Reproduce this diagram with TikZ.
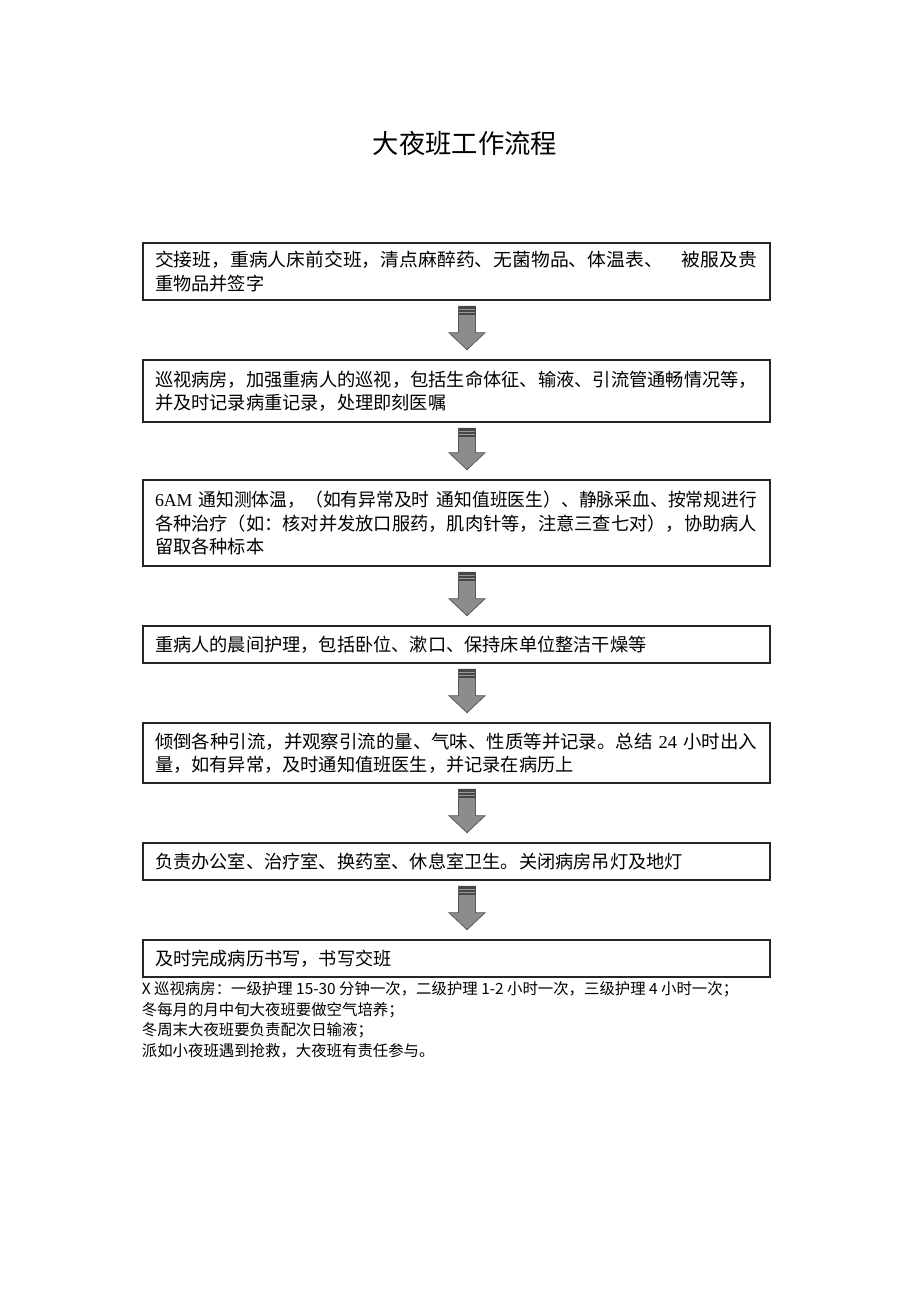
\documentclass[tikz,border=0pt]{standalone}
\usepackage{graphicx}
\usepackage{fontspec}
\setmainfont{Noto Sans CJK SC}
\newfontfamily\cjk{Noto Sans CJK SC}
\newfontfamily\latinserif{Liberation Serif}
\usetikzlibrary{calc}
\newcommand\fullline[1]{\resizebox{602pt}{\height}{#1}}
\tikzset{
  flowbox/.style={draw=black!85, line width=2.6pt, fill=white, minimum width=627pt, text width=603pt,
    inner xsep=12pt, inner ysep=4pt, align=left, font=\cjk\fontsize{18.2}{23.5}\selectfont},
  arrowbody/.style={fill=black!45, draw=black!65, line width=0.8pt},
  arrowband/.style={fill=black!72},
  arrowstripe/.style={draw=black!40, line width=0.6pt},
  notestyle/.style={anchor=north west, inner sep=0pt, align=left, font=\cjk\fontsize{15.4}{20.7}\selectfont},
  titlestyle/.style={font=\cjk\fontsize{26.3}{30}\selectfont}
}
\newcommand\blockarrow[2]{%
  \coordinate (#1top) at ($(#1.south)+(10.5,-5)$);
  \coordinate (#1tip) at ($(#2.north)+(10.5,9)$);
  \path let \p1=(#1top), \p2=(#1tip) in
    [arrowbody] (\x1-8.5,\y1) -- (\x1+8.5,\y1) -- (\x1+8.5,\y2+17) -- (\x1+18,\y2+17)
      -- (\x2,\y2) -- (\x1-18,\y2+17) -- (\x1-8.5,\y2+17) -- cycle;
  \path[arrowband] ($(#1top)+(-8.5,0)$) rectangle ($(#1top)+(8.5,-9)$);
  \path[arrowstripe] ($(#1top)+(-8,-3)$) -- ($(#1top)+(8,-3)$) ($(#1top)+(-8,-6)$) -- ($(#1top)+(8,-6)$);
}
\begin{document}
\begin{tikzpicture}[x=1pt,y=1pt]
\useasboundingbox (0,0) rectangle (920,-1301);
\fill[white] (0,0) rectangle (920,-1301);
\node[titlestyle] (title) at (465,-143) {大夜班工作流程};

\node[flowbox, minimum height=57pt] (b1) at (456.5,-271.5)
  {\fullline{交接班，重病人床前交班，清点麻醉药、无菌物品、体温表、\hspace{1em}被服及贵}\\重物品并签字};
\node[flowbox, minimum height=62pt] (b2) at (456.5,-391)
  {\fullline{巡视病房，加强重病人的巡视，包括生命体征、输液、引流管通畅情况等，}\\并及时记录病重记录，处理即刻医嘱};
\node[flowbox, minimum height=86pt] (b3) at (456.5,-523)
  {\fullline{{\latinserif 6AM} 通知测体温，（如有异常及时\hspace{0.4em}通知值班医生）、静脉采血、按常规进行}\\\fullline{各种治疗（如：核对并发放口服药，肌肉针等，注意三查七对），协助病人}\\留取各种标本};
\node[flowbox, minimum height=37pt] (b4) at (456.5,-644.5)
  {重病人的晨间护理，包括卧位、漱口、保持床单位整洁干燥等};
\node[flowbox, minimum height=60pt] (b5) at (456.5,-753)
  {\fullline{倾倒各种引流，并观察引流的量、气味、性质等并记录。总结 {\latinserif 24} 小时出入}\\量，如有异常，及时通知值班医生，并记录在病历上};
\node[flowbox, minimum height=37pt] (b6) at (456.5,-861.5)
  {负责办公室、治疗室、换药室、休息室卫生。关闭病房吊灯及地灯};
\node[flowbox, minimum height=37pt] (b7) at (456.5,-958.5)
  {及时完成病历书写，书写交班};

\blockarrow{b1}{b2}
\blockarrow{b2}{b3}
\blockarrow{b3}{b4}
\blockarrow{b4}{b5}
\blockarrow{b5}{b6}
\blockarrow{b6}{b7}

\node[notestyle] (notes) at ($(b7.south west)+(0,-3)$)
  {X 巡视病房：一级护理 15-30 分钟一次，二级护理 1-2 小时一次，三级护理 4 小时一次；\\
   冬每月的月中旬大夜班要做空气培养；\\
   冬周末大夜班要负责配次日输液；\\
   派如小夜班遇到抢救，大夜班有责任参与。};
\end{tikzpicture}
\end{document}
